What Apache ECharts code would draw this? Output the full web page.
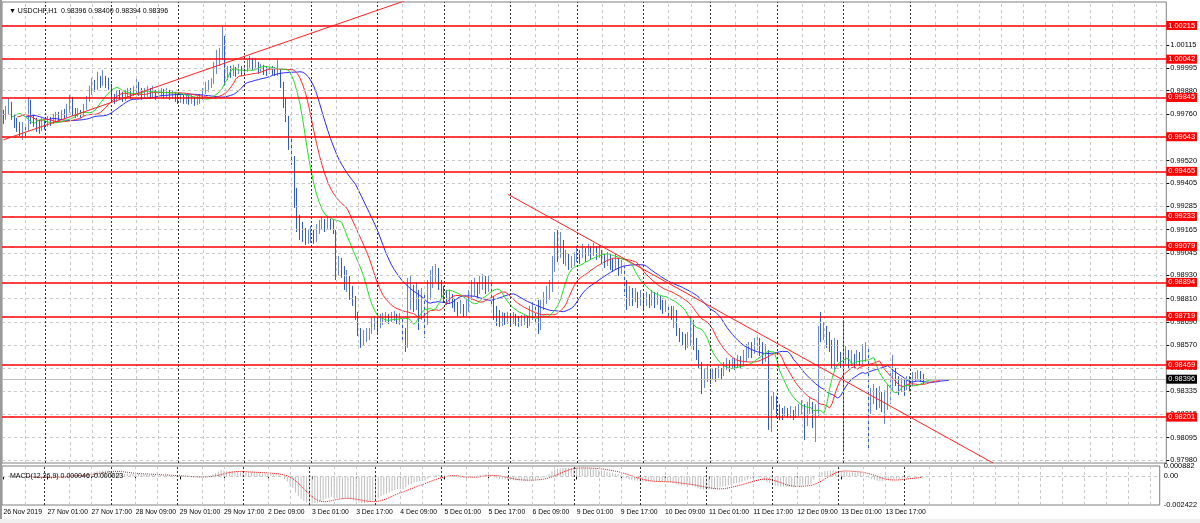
<!DOCTYPE html>
<html><head><meta charset="utf-8">
<script src="https://cdn.jsdelivr.net/npm/echarts@6/dist/echarts.min.js"></script>
<style>html,body{margin:0;padding:0;background:#fff}#c{width:1200px;height:523px}</style>
</head><body><div id="c"></div>
<script>
// ---------------- DATA ----------------
const symbolTitle = 'USDCHF,H1  0.98396 0.98400 0.98394 0.98396';
const macdTitle = 'MACD(12,26,9) 0.000046 -0.000023';
const firstOpen = 0.99756;
const close = [
0.99740,0.99771,0.99812,0.99750,0.99719,0.99699,0.99668,0.99688,0.99678,0.99822,
0.99740,0.99730,0.99699,0.99678,0.99709,0.99699,0.99730,0.99719,0.99740,0.99750,
0.99745,0.99760,0.99755,0.99781,0.99833,0.99771,0.99760,0.99771,0.99755,0.99791,
0.99833,0.99874,0.99915,0.99894,0.99935,0.99915,0.99946,0.99925,0.99905,0.99843,
0.99833,0.99863,0.99853,0.99843,0.99858,0.99874,0.99863,0.99884,0.99915,0.99874,
0.99853,0.99869,0.99884,0.99858,0.99874,0.99853,0.99863,0.99874,0.99858,0.99869,
0.99853,0.99858,0.99848,0.99833,0.99843,0.99827,0.99838,0.99822,0.99833,0.99817,
0.99827,0.99843,0.99874,0.99894,0.99915,0.99925,0.99987,1.00038,1.00064,1.00152,
0.99946,0.99987,0.99966,0.99987,0.99977,0.99997,0.99977,0.99987,1.00018,1.00038,
1.00007,1.00028,0.99987,0.99997,0.99987,0.99977,0.99992,0.99987,0.99977,0.99997,
0.99915,0.99833,0.99740,0.99627,0.99534,0.99369,0.99189,0.99164,0.99133,0.99112,
0.99122,0.99133,0.99112,0.99153,0.99184,0.99194,0.99184,0.99205,0.99184,0.99164,
0.98958,0.98989,0.98958,0.98896,0.98917,0.98845,0.98814,0.98732,0.98649,0.98587,
0.98608,0.98618,0.98629,0.98670,0.98690,0.98670,0.98701,0.98711,0.98721,0.98701,
0.98711,0.98721,0.98701,0.98711,0.98623,0.98572,0.98804,0.98855,0.98778,0.98824,
0.98752,0.98804,0.98690,0.98829,0.98886,0.98927,0.98958,0.98896,0.98855,0.98834,
0.98804,0.98824,0.98793,0.98773,0.98752,0.98773,0.98742,0.98762,0.98824,0.98855,
0.98876,0.98845,0.98886,0.98906,0.98876,0.98896,0.98814,0.98742,0.98721,0.98701,
0.98711,0.98701,0.98716,0.98690,0.98711,0.98701,0.98685,0.98695,0.98711,0.98690,
0.98732,0.98742,0.98721,0.98701,0.98773,0.98804,0.98834,0.98865,0.98958,0.99112,
0.99040,0.99081,0.99009,0.99020,0.98989,0.98999,0.99020,0.99050,0.99030,0.99061,
0.99040,0.99071,0.99050,0.99071,0.99040,0.99061,0.99020,0.98999,0.99030,0.98999,
0.98978,0.99009,0.98968,0.98978,0.98886,0.98804,0.98845,0.98814,0.98834,0.98804,
0.98824,0.98783,0.98814,0.98793,0.98824,0.98804,0.98814,0.98783,0.98762,0.98773,
0.98742,0.98721,0.98742,0.98649,0.98618,0.98598,0.98577,0.98608,0.98690,0.98587,
0.98536,0.98474,0.98361,0.98402,0.98423,0.98402,0.98433,0.98412,0.98443,0.98423,
0.98464,0.98474,0.98454,0.98485,0.98464,0.98495,0.98474,0.98505,0.98536,0.98557,
0.98536,0.98577,0.98598,0.98557,0.98515,0.98536,0.98186,0.98268,0.98299,0.98238,
0.98227,0.98217,0.98238,0.98217,0.98227,0.98207,0.98227,0.98238,0.98258,0.98186,
0.98238,0.98268,0.98196,0.98227,0.98649,0.98618,0.98649,0.98598,0.98567,0.98495,
0.98567,0.98526,0.98485,0.98495,0.98515,0.98485,0.98505,0.98485,0.98515,0.98505,
0.98546,0.98557,0.98217,0.98299,0.98340,0.98268,0.98310,0.98248,0.98289,0.98330,
0.98371,0.98433,0.98392,0.98351,0.98371,0.98340,0.98382,0.98371,0.98402,0.98412,
0.98423,0.98402,0.98396,0.98396
];
const high = [
0.99781,0.99802,0.99843,0.99822,0.99760,0.99740,0.99719,0.99719,0.99709,0.99848,
0.99833,0.99760,0.99740,0.99730,0.99740,0.99730,0.99750,0.99745,0.99760,0.99771,
0.99771,0.99781,0.99786,0.99812,0.99858,0.99848,0.99791,0.99791,0.99781,0.99812,
0.99853,0.99905,0.99946,0.99935,0.99977,0.99956,0.99987,0.99956,0.99946,0.99915,
0.99863,0.99884,0.99884,0.99874,0.99884,0.99894,0.99894,0.99905,0.99946,0.99925,
0.99894,0.99894,0.99905,0.99894,0.99905,0.99884,0.99894,0.99894,0.99889,0.99894,
0.99884,0.99879,0.99874,0.99863,0.99869,0.99858,0.99863,0.99853,0.99858,0.99848,
0.99853,0.99863,0.99894,0.99925,0.99935,0.99946,1.00028,1.00090,1.00100,1.00208,
1.00162,1.00007,1.00007,1.00013,1.00002,1.00018,1.00007,1.00007,1.00038,1.00059,
1.00049,1.00049,1.00028,1.00018,1.00013,1.00007,1.00013,1.00007,1.00002,1.00038,
0.99997,0.99925,0.99843,0.99750,0.99647,0.99544,0.99380,0.99241,0.99205,0.99174,
0.99164,0.99184,0.99164,0.99194,0.99215,0.99231,0.99220,0.99236,0.99220,0.99215,
0.99112,0.99030,0.99020,0.98978,0.98958,0.98927,0.98876,0.98824,0.98742,0.98659,
0.98649,0.98659,0.98659,0.98711,0.98721,0.98711,0.98732,0.98737,0.98742,0.98732,
0.98742,0.98747,0.98732,0.98737,0.98721,0.98659,0.98917,0.98932,0.98881,0.98896,
0.98855,0.98865,0.98829,0.98906,0.98958,0.98978,0.98989,0.98968,0.98906,0.98876,
0.98855,0.98855,0.98834,0.98814,0.98793,0.98804,0.98783,0.98804,0.98855,0.98906,
0.98917,0.98896,0.98927,0.98937,0.98927,0.98927,0.98906,0.98824,0.98773,0.98752,
0.98742,0.98737,0.98742,0.98732,0.98742,0.98732,0.98721,0.98726,0.98732,0.98721,
0.98773,0.98793,0.98773,0.98804,0.98804,0.98845,0.98876,0.98906,0.99030,0.99153,
0.99164,0.99153,0.99112,0.99061,0.99040,0.99030,0.99050,0.99081,0.99061,0.99092,
0.99071,0.99092,0.99081,0.99097,0.99081,0.99086,0.99061,0.99040,0.99050,0.99040,
0.99020,0.99040,0.99020,0.99009,0.98978,0.98906,0.98876,0.98865,0.98865,0.98845,
0.98855,0.98834,0.98845,0.98834,0.98855,0.98845,0.98845,0.98824,0.98804,0.98804,
0.98783,0.98773,0.98773,0.98752,0.98659,0.98639,0.98629,0.98639,0.98721,0.98701,
0.98608,0.98546,0.98485,0.98454,0.98464,0.98443,0.98454,0.98454,0.98464,0.98454,
0.98485,0.98505,0.98495,0.98505,0.98505,0.98521,0.98515,0.98546,0.98577,0.98587,
0.98587,0.98608,0.98618,0.98608,0.98587,0.98577,0.98546,0.98310,0.98330,0.98310,
0.98268,0.98248,0.98258,0.98248,0.98258,0.98238,0.98258,0.98268,0.98289,0.98268,
0.98279,0.98299,0.98279,0.98268,0.98670,0.98742,0.98690,0.98670,0.98639,0.98598,
0.98608,0.98598,0.98536,0.98701,0.98567,0.98546,0.98546,0.98526,0.98546,0.98536,
0.98577,0.98587,0.98572,0.98351,0.98371,0.98351,0.98361,0.98330,0.98340,0.98371,
0.98443,0.98521,0.98454,0.98412,0.98402,0.98392,0.98412,0.98412,0.98433,0.98433,
0.98443,0.98438,0.98423,0.98400
];
const low = [
0.99709,0.99730,0.99755,0.99730,0.99688,0.99668,0.99647,0.99627,0.99637,0.99673,
0.99709,0.99694,0.99668,0.99658,0.99673,0.99678,0.99694,0.99699,0.99709,0.99724,
0.99719,0.99730,0.99735,0.99740,0.99766,0.99750,0.99740,0.99745,0.99740,0.99750,
0.99781,0.99822,0.99858,0.99874,0.99884,0.99894,0.99905,0.99894,0.99884,0.99822,
0.99812,0.99822,0.99833,0.99822,0.99827,0.99843,0.99838,0.99853,0.99863,0.99853,
0.99833,0.99843,0.99848,0.99838,0.99843,0.99833,0.99843,0.99848,0.99838,0.99843,
0.99833,0.99838,0.99822,0.99812,0.99817,0.99812,0.99812,0.99807,0.99812,0.99802,
0.99807,0.99812,0.99833,0.99863,0.99874,0.99894,0.99915,0.99966,1.00007,1.00038,
0.99905,0.99935,0.99946,0.99956,0.99951,0.99966,0.99956,0.99961,0.99977,0.99997,
0.99987,0.99992,0.99966,0.99977,0.99961,0.99956,0.99966,0.99961,0.99956,0.99956,
0.99894,0.99791,0.99719,0.99575,0.99498,0.99277,0.99153,0.99112,0.99102,0.99086,
0.99092,0.99097,0.99092,0.99102,0.99143,0.99164,0.99153,0.99169,0.99164,0.99143,
0.98906,0.98927,0.98917,0.98855,0.98845,0.98804,0.98773,0.98701,0.98618,0.98557,
0.98567,0.98587,0.98598,0.98629,0.98649,0.98634,0.98659,0.98675,0.98690,0.98680,
0.98690,0.98695,0.98680,0.98675,0.98598,0.98536,0.98557,0.98752,0.98742,0.98752,
0.98649,0.98701,0.98608,0.98675,0.98804,0.98865,0.98896,0.98855,0.98814,0.98788,
0.98778,0.98783,0.98762,0.98742,0.98721,0.98732,0.98716,0.98721,0.98742,0.98804,
0.98824,0.98814,0.98834,0.98855,0.98834,0.98845,0.98783,0.98701,0.98670,0.98665,
0.98670,0.98675,0.98680,0.98670,0.98680,0.98670,0.98665,0.98670,0.98675,0.98659,
0.98670,0.98701,0.98680,0.98629,0.98649,0.98752,0.98783,0.98804,0.98845,0.98948,
0.98999,0.99020,0.98989,0.98978,0.98958,0.98968,0.98978,0.98999,0.98989,0.99020,
0.98999,0.99030,0.99009,0.99030,0.99009,0.99020,0.98989,0.98968,0.98978,0.98958,
0.98948,0.98958,0.98927,0.98937,0.98824,0.98752,0.98773,0.98773,0.98793,0.98762,
0.98773,0.98752,0.98773,0.98762,0.98773,0.98762,0.98778,0.98752,0.98732,0.98742,
0.98711,0.98701,0.98659,0.98618,0.98587,0.98567,0.98546,0.98557,0.98567,0.98546,
0.98495,0.98454,0.98320,0.98351,0.98382,0.98371,0.98392,0.98382,0.98402,0.98392,
0.98412,0.98443,0.98433,0.98454,0.98443,0.98454,0.98454,0.98464,0.98485,0.98505,
0.98505,0.98526,0.98546,0.98515,0.98474,0.98485,0.98135,0.98124,0.98238,0.98196,
0.98186,0.98186,0.98207,0.98196,0.98196,0.98186,0.98196,0.98207,0.98217,0.98083,
0.98155,0.98217,0.98145,0.98073,0.98207,0.98587,0.98598,0.98557,0.98536,0.98454,
0.98443,0.98485,0.98454,0.98021,0.98474,0.98454,0.98464,0.98454,0.98474,0.98464,
0.98474,0.98485,0.98032,0.98217,0.98268,0.98238,0.98248,0.98227,0.98166,0.98238,
0.98268,0.98340,0.98361,0.98315,0.98330,0.98310,0.98340,0.98330,0.98361,0.98382,
0.98392,0.98382,0.98371,0.98394
];
const timeLabels = ['26 Nov 2019','27 Nov 01:00','27 Nov 17:00','28 Nov 09:00','29 Nov 01:00','29 Nov 17:00',
  '2 Dec 09:00','3 Dec 01:00','3 Dec 17:00','4 Dec 09:00','5 Dec 01:00','5 Dec 17:00','6 Dec 09:00',
  '9 Dec 01:00','9 Dec 17:00','10 Dec 09:00','11 Dec 01:00','11 Dec 17:00','12 Dec 09:00','13 Dec 01:00','13 Dec 17:00'];
const priceTicks = [1.00115,0.99995,0.99880,0.99760,0.99640,0.99520,0.99405,0.99285,0.99165,0.99045,
  0.98930,0.98810,0.98690,0.98570,0.98453,0.98335,0.98215,0.98095,0.97980];
const levels = [1.00215,1.00042,0.99845,0.99643,0.99465,0.99233,0.99079,0.98894,0.98719,0.98469,0.98201];
const trendUp = [[0,0.99627],[145,1.00343]];
const trendDown = [[182,0.99347],[357,0.97965]];
const lastPrice = 0.98396;
const priceMin = 0.97965, priceMax = 1.00336;
const macdTicks = [0.000882, 0, -0.002422];
const macdMin = -0.002422, macdMax = 0.000882;
const slotCount = 420;
const startTime = Date.UTC(2019,10,26,9);

// ---------------- BUILD ----------------
const pad = n => String(n).padStart(2,'0');
const categories = [];
for (let t = startTime; categories.length < slotCount; t += 3600000) {
  const d = new Date(t), wd = d.getUTCDay();
  if (wd === 0 || wd === 6) continue;
  categories.push(d.getUTCFullYear()+'.'+pad(d.getUTCMonth()+1)+'.'+pad(d.getUTCDate())+' '+pad(d.getUTCHours())+':00');
}
const nBars = close.length;
const dayStarts = [];
categories.forEach((c,i)=>{ if (i>0 && i<nBars && c.endsWith(' 00:00')) dayStarts.push(i); });
const gridCols = [];
for (let i=8;i<slotCount;i+=8){ if (dayStarts.indexOf(i-1)<0 && dayStarts.indexOf(i)<0) gridCols.push(i); }

const candles = close.map((c,i)=>{
  const o = i ? close[i-1] : firstOpen;
  return [o, c, Math.min(low[i],o,c), Math.max(high[i],o,c)];
});
const median = candles.map(k => (k[2]+k[3])/2);
function smma(src,n){ let s=src[0]; return src.map((v,i)=> (s = i ? (s*(n-1)+v)/n : v)); }
function ema(src,n){ const k=2/(n+1); let e=src[0]; return src.map((v,i)=> (e = i ? v*k + e*(1-k) : v)); }
const jaw = smma(median,13).map((v,i)=>[i+8,v]);
const teeth = smma(median,8).map((v,i)=>[i+5,v]);
const lips = smma(median,5).map((v,i)=>[i+3,v]);
const e12 = ema(close,12), e26 = ema(close,26);
const macdMain = e12.map((v,i)=> v - e26[i]);
const macdSignal = macdMain.map((v,i)=>{ if(i<8) return null; let s=0; for(let j=i-8;j<=i;j++) s+=macdMain[j]; return s/9; });

const FONT = 'Liberation Sans';
const boxLabel = (bg)=>({show:true, position:'end', distance:0, color:'#fff', backgroundColor:bg,
  padding:[1,2,1,2], fontSize:7.4, fontFamily:FONT, formatter:p=>Number(p.value).toFixed(5)});
function lineMarks(name, xi, yi, items, style, label, z){
  return {type:'line', name, xAxisIndex:xi, yAxisIndex:yi, data:[], silent:true, z,
    markLine:{symbol:['none','none'], silent:true, animation:false, precision:6,
      lineStyle:style, label: label || {show:false}, emphasis:{disabled:true}, data:items}};
}
const greyGrid = {color:'#c8c8c8', type:[3,3], width:1};
const darkSep = {color:'#303030', type:[2,2], width:1};

const chart = echarts.init(document.getElementById('c'), null, {renderer:'canvas'});
chart.setOption({
  animation:false,
  backgroundColor:'#ffffff',
  textStyle:{fontFamily:FONT},
  graphic:[
    {type:'rect', left:0, top:0, shape:{width:2, height:523}, style:{fill:'#9a9a9a'}, silent:true},
    {type:'rect', left:0, bottom:0, shape:{width:1200, height:4}, style:{fill:'#f0f0f0'}, silent:true}
  ],
  title:[
    {text:'\u25BC '+symbolTitle, left:4, top:3, textStyle:{fontFamily:FONT, fontSize:7, fontWeight:'normal', color:'#000'}},
    {text:macdTitle, left:5, top:468, textStyle:{fontFamily:FONT, fontSize:7, fontWeight:'normal', color:'#000'}}
  ],
  grid:[
    {left:2, top:2, width:1166, height:461, show:true, borderColor:'#808080', borderWidth:1, backgroundColor:'#fff'},
    {left:2, top:466, width:1166, height:39, show:true, borderColor:'#808080', borderWidth:1, backgroundColor:'#fff'}
  ],
  xAxis:[
    {type:'category', gridIndex:0, data:categories, boundaryGap:true,
     axisLine:{show:false}, axisTick:{show:false}, axisLabel:{show:false}, splitLine:{show:false}},
    {type:'category', gridIndex:1, data:categories, boundaryGap:true,
     axisLine:{show:false},
     axisTick:{show:true, alignWithLabel:true, interval:(i)=> i%16===0 && i/16 < timeLabels.length, length:3, lineStyle:{color:'#000'}},
     axisLabel:{interval:15, align:'left', margin:4, fontSize:6.8, color:'#000', fontFamily:FONT,
       formatter:(v,i)=> timeLabels[i/16] || ''},
     splitLine:{show:false}}
  ],
  yAxis:[
    {type:'value', gridIndex:0, position:'right', min:priceMin, max:priceMax,
     axisLine:{show:false}, splitLine:{show:false},
     axisTick:{show:true, customValues:priceTicks, length:3, lineStyle:{color:'#000'}},
     axisLabel:{customValues:priceTicks, formatter:v=>v.toFixed(5), fontSize:7.4, margin:4, color:'#000', fontFamily:FONT}},
    {type:'value', gridIndex:1, position:'right', min:macdMin, max:macdMax,
     axisLine:{show:false}, splitLine:{show:false},
     axisTick:{show:false, customValues:macdTicks},
     axisLabel:{customValues:macdTicks, formatter:v=> v===0 ? '0.00' : v.toFixed(6), fontSize:7.4, margin:4, color:'#000', fontFamily:FONT}}
  ],
  series:[
    lineMarks('hGrid',0,0, priceTicks.map(v=>({yAxis:v})), greyGrid, null, 1),
    lineMarks('vGrid',0,0, gridCols.map(i=>({xAxis:i})), greyGrid, null, 1),
    lineMarks('daySep',0,0, dayStarts.map(i=>({xAxis:i})), darkSep, null, 1),
    lineMarks('macdZero',1,1, [{yAxis:0}], greyGrid, null, 1),
    lineMarks('macdVGrid',1,1, gridCols.map(i=>({xAxis:i})), greyGrid, null, 1),
    lineMarks('macdDaySep',1,1, dayStarts.map(i=>({xAxis:i})), darkSep, null, 1),
    {type:'candlestick', name:'USDCHF', xAxisIndex:0, yAxisIndex:0, data:candles, barWidth:1, z:3,
     itemStyle:{color:'#8ea4ee', color0:'#3359d8', borderColor:'#6a87e4', borderColor0:'#3359d8', borderWidth:1}},
    {type:'line', name:'Jaw', xAxisIndex:0, yAxisIndex:0, data:jaw, showSymbol:false, z:4,
     lineStyle:{color:'#2b2bff', width:1}},
    {type:'line', name:'Teeth', xAxisIndex:0, yAxisIndex:0, data:teeth, showSymbol:false, z:4,
     lineStyle:{color:'#ff2b2b', width:1}},
    {type:'line', name:'Lips', xAxisIndex:0, yAxisIndex:0, data:lips, showSymbol:false, z:4,
     lineStyle:{color:'#22dd22', width:1}},
    {type:'line', name:'trendUp', xAxisIndex:0, yAxisIndex:0, data:trendUp, showSymbol:false, z:5, clip:true,
     lineStyle:{color:'#ff2020', width:1}},
    {type:'line', name:'trendDown', xAxisIndex:0, yAxisIndex:0, data:trendDown, showSymbol:false, z:5, clip:true,
     lineStyle:{color:'#ff2020', width:1}},
    lineMarks('levels',0,0, levels.map(v=>({yAxis:v})), {color:'#ff0000', width:1.5, type:'solid'}, boxLabel('#ff0000'), 6),
    lineMarks('bid',0,0, [{yAxis:lastPrice}], {color:'#c0c0c0', width:1, type:'solid'}, boxLabel('#000000'), 6),
    {type:'bar', name:'MACD', xAxisIndex:1, yAxisIndex:1, data:macdMain, barWidth:1, z:3,
     itemStyle:{color:'#bdbdbd'}},
    {type:'line', name:'Signal', xAxisIndex:1, yAxisIndex:1, data:macdSignal, showSymbol:false, z:4,
     lineStyle:{color:'#ff0000', width:1, type:'dotted'}}
  ]
});
</script></body></html>
